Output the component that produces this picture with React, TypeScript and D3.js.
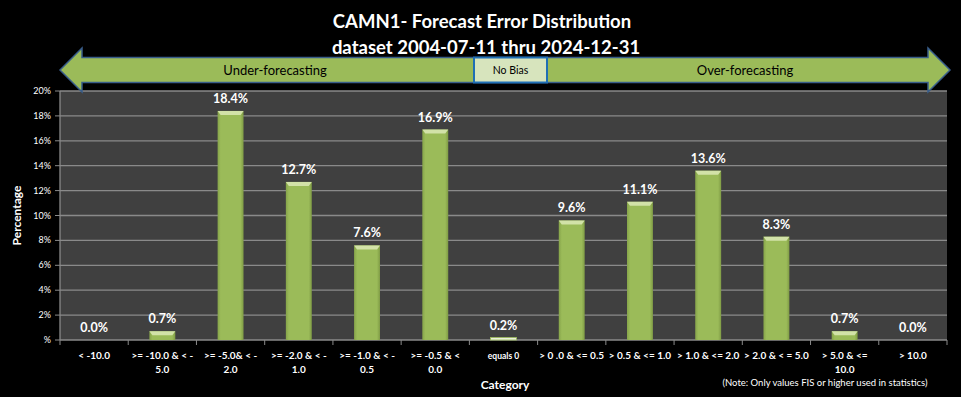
import React, { useEffect, useRef } from "react";
import * as d3 from "d3";

const categories = [
  ["< -10.0"],
  [">= -10.0 & < -", "5.0"],
  [">= -5.0& < -", "2.0"],
  [">= -2.0 & < -", "1.0"],
  [">= -1.0 & < -", "0.5"],
  [">= -0.5 & <", "0.0"],
  ["equals 0"],
  ["> 0 .0 & <= 0.5"],
  ["> 0.5 & <= 1.0"],
  ["> 1.0 & <= 2.0"],
  ["> 2.0 & < = 5.0"],
  ["> 5.0 & <=", "10.0"],
  ["> 10.0"],
];
const values = [0.0, 0.7, 18.4, 12.7, 7.6, 16.9, 0.2, 9.6, 11.1, 13.6, 8.3, 0.7, 0.0];
const yTicks = [0, 2, 4, 6, 8, 10, 12, 14, 16, 18, 20];

const W = 961, H = 397;
const FONT = "Lato, 'Open Sans', sans-serif";

export default function App() {
  const ref = useRef<SVGSVGElement>(null);

  useEffect(() => {
    const svg = d3.select(ref.current);
    svg.selectAll("*").remove();

    const left = 60, right = 947, top = 91, bottom = 340;

    const x = d3.scaleBand<number>()
      .domain(d3.range(categories.length))
      .range([left, right])
      .paddingInner(0.62)
      .paddingOuter(0.31);
    const y = d3.scaleLinear().domain([0, 20]).range([bottom, top]);

    svg.append("rect").attr("width", W).attr("height", H).attr("fill", "#000");

    // titles
    svg.append("text").attr("x", 482).attr("y", 28).attr("text-anchor", "middle")
      .attr("fill", "#fff").attr("font-family", FONT).attr("font-weight", "bold")
      .attr("font-size", 18.5).text("CAMN1- Forecast Error Distribution");
    svg.append("text").attr("x", 486).attr("y", 54).attr("text-anchor", "middle")
      .attr("fill", "#fff").attr("font-family", FONT).attr("font-weight", "bold")
      .attr("font-size", 18.5).text("dataset 2004-07-11  thru 2024-12-31");

    // plot area
    svg.append("rect").attr("x", left).attr("y", top).attr("width", right - left)
      .attr("height", bottom - top).attr("fill", "#404040");

    const grid = svg.append("g");
    yTicks.forEach(t => {
      grid.append("line").attr("x1", left).attr("x2", right)
        .attr("y1", y(t)).attr("y2", y(t))
        .attr("stroke", "#8a8a8a").attr("stroke-width", 1.3);
      grid.append("line").attr("x1", left - 5).attr("x2", left)
        .attr("y1", y(t)).attr("y2", y(t)).attr("stroke", "#8a8a8a");
      grid.append("text").attr("x", left - 9).attr("y", y(t) + 3)
        .attr("text-anchor", "end").attr("fill", "#fff")
        .attr("font-family", FONT).attr("font-size", 9)
        .text(t === 0 ? "%" : t + "%");
    });
    svg.append("line").attr("x1", left).attr("x2", left).attr("y1", top).attr("y2", bottom)
      .attr("stroke", "#8a8a8a").attr("stroke-width", 1.3);

    // x ticks
    const step = (right - left) / categories.length;
    d3.range(categories.length + 1).forEach(i => {
      svg.append("line").attr("x1", left + i * step).attr("x2", left + i * step)
        .attr("y1", bottom).attr("y2", bottom + 5).attr("stroke", "#8a8a8a");
    });

    // gradient for bars
    const defs = svg.append("defs");
    const grad = defs.append("linearGradient").attr("id", "barg")
      .attr("x1", 0).attr("x2", 1).attr("y1", 0).attr("y2", 0);
    grad.append("stop").attr("offset", "0%").attr("stop-color", "#86a44a");
    grad.append("stop").attr("offset", "12%").attr("stop-color", "#9bbb59");
    grad.append("stop").attr("offset", "88%").attr("stop-color", "#9bbb59");
    grad.append("stop").attr("offset", "100%").attr("stop-color", "#7f9b45");

    const bw = x.bandwidth();
    values.forEach((v, i) => {
      const x0 = x(i)!;
      const yt = y(v);
      const h = bottom - yt;
      if (h > 0) {
        const light = i === 6;
        svg.append("rect").attr("x", x0).attr("y", yt).attr("width", bw).attr("height", h)
          .attr("fill", light ? "#e8eed8" : "url(#barg)")
          .attr("stroke", light ? "#9bbb59" : "none").attr("stroke-width", 0.8);
        if (!light) {
          const b = Math.min(4, h);
          svg.append("path")
            .attr("d", `M${x0},${yt}L${x0 + bw},${yt}L${x0 + bw - 3},${yt + b}L${x0 + 3},${yt + b}Z`)
            .attr("fill", "#d2e2a8");
        }
      }
      svg.append("text").attr("x", x0 + bw / 2).attr("y", yt - 8)
        .attr("text-anchor", "middle").attr("fill", "#fff")
        .attr("font-family", FONT).attr("font-weight", "bold").attr("font-size", 12.5)
        .text(v.toFixed(1) + "%");
    });

    // x labels
    categories.forEach((lines, i) => {
      const cx = x(i)! + bw / 2;
      lines.forEach((ln, j) => {
        svg.append("text").attr("x", cx).attr("y", 359 + j * 14)
          .attr("text-anchor", "middle").attr("fill", "#fff")
          .attr("font-family", FONT).attr("font-weight", "bold")
          .attr("font-size", i === 6 ? 8.5 : 10).text(ln);
      });
    });

    svg.append("text").attr("x", 505).attr("y", 389).attr("text-anchor", "middle")
      .attr("fill", "#fff").attr("font-family", FONT).attr("font-weight", "bold")
      .attr("font-size", 12).text("Category");
    svg.append("text").attr("x", 825).attr("y", 386).attr("text-anchor", "middle")
      .attr("fill", "#fff").attr("font-family", FONT)
      .attr("font-size", 9.5).text("(Note: Only values FIS or higher used in statistics)");

    svg.append("text").attr("transform", `translate(21,${(top + bottom) / 2}) rotate(-90)`)
      .attr("text-anchor", "middle").attr("fill", "#fff").attr("font-family", FONT)
      .attr("font-weight", "bold").attr("font-size", 12).text("Percentage");

    // double-headed arrow
    const ax0 = 60, ax1 = 950, ay = 70, sh = 12.5, hh = 22, hw = 22;
    const arrow = `M${ax0},${ay} L${ax0 + hw},${ay - hh} L${ax0 + hw},${ay - sh}
      L${ax1 - hw},${ay - sh} L${ax1 - hw},${ay - hh} L${ax1},${ay}
      L${ax1 - hw},${ay + hh} L${ax1 - hw},${ay + sh} L${ax0 + hw},${ay + sh}
      L${ax0 + hw},${ay + hh} Z`;
    svg.append("path").attr("d", arrow).attr("fill", "#9bbb59")
      .attr("stroke", "#385d8a").attr("stroke-width", 1.5);
    svg.append("rect").attr("x", 474).attr("y", ay - sh).attr("width", 73).attr("height", sh * 2)
      .attr("fill", "#d7e4bd").attr("stroke", "#1f6fb5").attr("stroke-width", 2);
    svg.append("text").attr("x", 510.5).attr("y", ay + 4).attr("text-anchor", "middle")
      .attr("fill", "#000").attr("font-family", FONT).attr("font-size", 10.5).text("No  Bias");
    svg.append("text").attr("x", 275).attr("y", ay + 5).attr("text-anchor", "middle")
      .attr("fill", "#000").attr("font-family", FONT).attr("font-size", 13).text("Under-forecasting");
    svg.append("text").attr("x", 745).attr("y", ay + 5).attr("text-anchor", "middle")
      .attr("fill", "#000").attr("font-family", FONT).attr("font-size", 13).text("Over-forecasting");
  }, []);

  return <svg ref={ref} width={W} height={H} style={{ display: "block", position: "absolute", left: 0, top: 0 }} />;
}
